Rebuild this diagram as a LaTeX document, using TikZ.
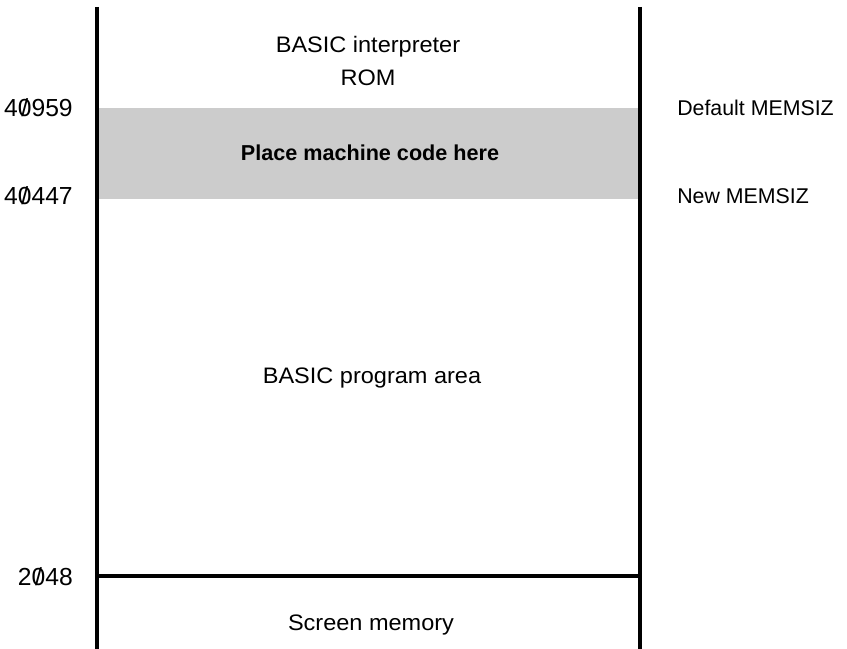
\documentclass[tikz,border=0pt]{standalone}
\usepackage{fontspec}
\setmainfont{Liberation Sans}
\newfontfamily\widesans{Liberation Sans}[FakeStretch=1.05]
% slashed zero as printed on the memory map
\newcommand{\zslash}{\ooalign{0\cr\hidewidth/\hidewidth\cr}}
\begin{document}
\begin{tikzpicture}[x=0.75pt,y=-0.75pt,
  wall/.style={line width=2.3pt},
  band/.style={fill=black!20,draw=none},
  region/.style={font=\widesans\fontsize{16.8}{20}\selectfont,align=center,inner sep=0pt},
  addr/.style={font=\fontsize{18.5}{20}\selectfont,anchor=east,inner sep=0pt},
  marker/.style={font=\fontsize{16}{20}\selectfont,anchor=west,inner sep=0pt}]
  \useasboundingbox (0,0) rectangle (847,649);

  % shaded area reserved for machine code
  \fill[band] (97,108) rectangle (640,199);

  % memory column walls and the 2048 boundary
  \coordinate (lt) at (97,7);
  \coordinate (lb) at (97,649);
  \coordinate (rt) at (640,7);
  \coordinate (rb) at (640,649);
  \coordinate (sl) at (97,576);
  \coordinate (sr) at (640,576);
  \draw[wall] (lt) -- (lb);
  \draw[wall] (rt) -- (rb);
  \draw[wall] (sl) -- (sr);

  % region labels
  \node[region] (rom) at (368,61) {BASIC interpreter\\[5pt]ROM};
  \node[region,font=\fontsize{16.2}{20}\selectfont\bfseries] (mc) at (370,153) {Place machine code here};
  \node[region] (prog) at (372,378) {BASIC program area};
  \node[region] (scr) at (371,625) {Screen memory};

  % addresses
  \node[addr] (a1) at (73,108) {4\zslash959};
  \node[addr] (a2) at (73,196) {4\zslash447};
  \node[addr] (a3) at (73,577) {2\zslash48};

  % MEMSIZ markers
  \node[marker] (m1) at (677,108) {Default MEMSIZ};
  \node[marker] (m2) at (677,196) {New MEMSIZ};
\end{tikzpicture}
\end{document}
